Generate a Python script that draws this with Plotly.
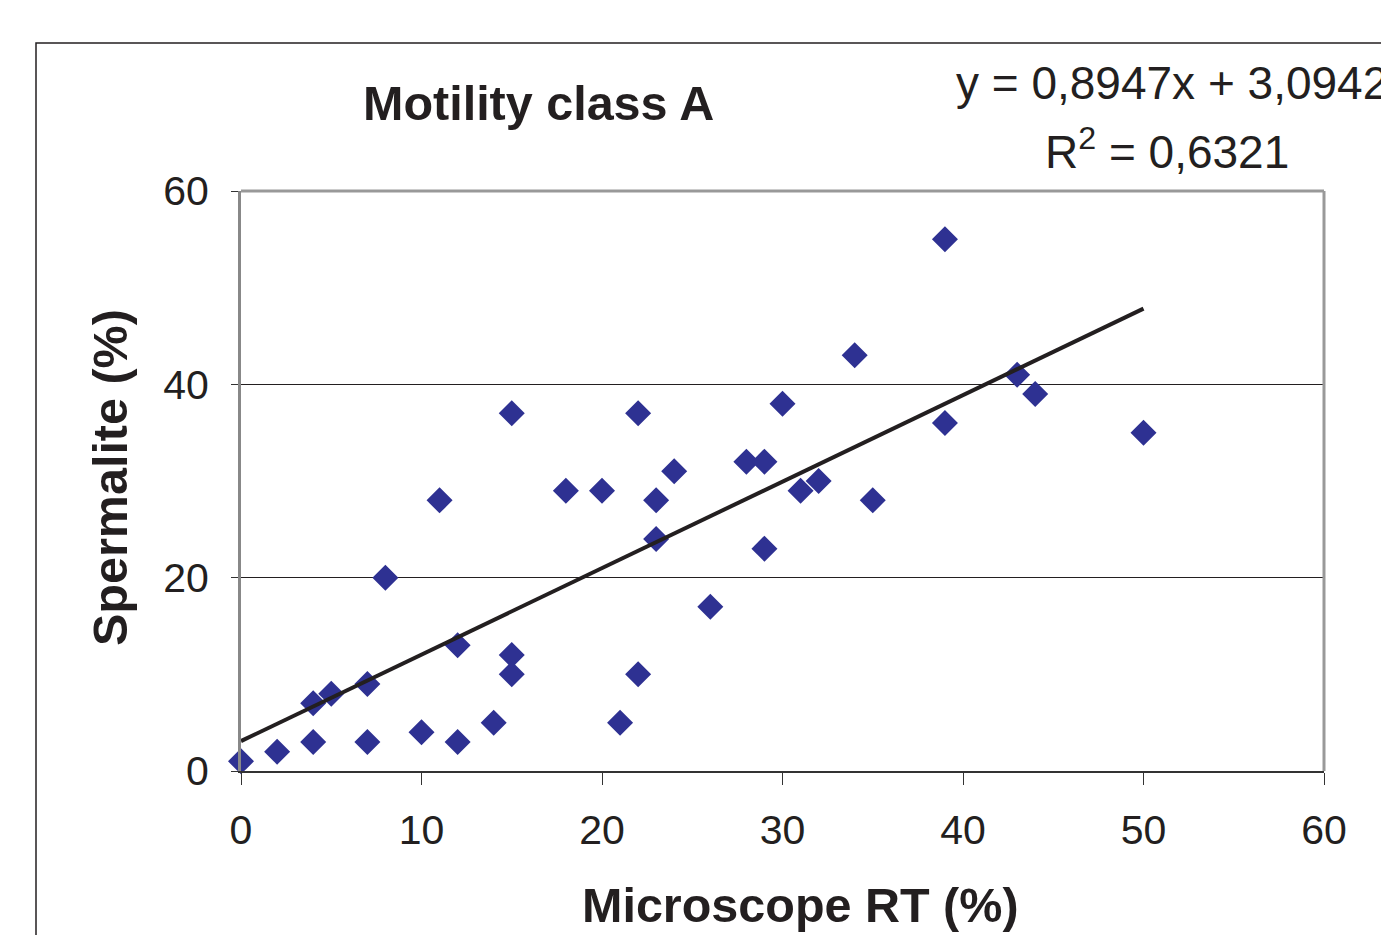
import plotly.graph_objects as go

# Data
microscope_rt = [0, 2, 4, 4, 5, 7, 7, 8, 10, 11, 12, 12, 14, 15, 15, 15, 18, 20, 21,
                 22, 22, 23, 23, 24, 26, 28, 29, 29, 30, 31, 32, 34, 35, 39, 39, 43, 44, 50]
spermalite = [1, 2, 3, 7, 8, 9, 3, 20, 4, 28, 13, 3, 5, 37, 12, 10, 29, 29, 5,
              37, 10, 28, 24, 31, 17, 32, 32, 23, 38, 29, 30, 43, 28, 55, 36, 41, 39, 35]

slope = 0.8947
intercept = 3.0942
r_squared = 0.6321
trend_x = [0, 50]
trend_y = [slope * v + intercept for v in trend_x]

x_ticks = [0, 10, 20, 30, 40, 50, 60]
y_ticks = [0, 20, 40, 60]

FONT = "Liberation Sans, Arial, sans-serif"
INK = "#231F20"

fig = go.Figure()
fig.add_trace(go.Scatter(
    x=microscope_rt, y=spermalite, mode="markers",
    marker=dict(symbol="diamond", size=20, color="#2E3192", line=dict(width=0)),
    showlegend=False, cliponaxis=False,
))
fig.add_trace(go.Scatter(
    x=trend_x, y=trend_y, mode="lines",
    line=dict(color=INK, width=4),
    showlegend=False,
))

# page body has an 8px margin; work in reference pixel coords shifted by it
OFF = 8
W, H = 1389 - OFF, 935 - OFF
L, R, T, B = 241 - OFF, 1324 - OFF, 191 - OFF, 771 - OFF
pw, ph = R - L, B - T

def px(xp):
    return (xp - OFF - L) / pw

def py(yp):
    return (B - (yp - OFF)) / ph

fig.update_layout(
    width=W, height=H,
    margin=dict(l=L, r=W - R, t=T, b=H - B, pad=0),
    paper_bgcolor="white", plot_bgcolor="white",
    font=dict(family=FONT, color=INK),
    xaxis=dict(
        range=[0, 60], tickvals=x_ticks, ticktext=[str(v) for v in x_ticks],
        showgrid=False, zeroline=False,
        showline=True, linecolor="#333333", linewidth=2,
        ticks="outside", ticklen=12, tickcolor="#333333", tickwidth=1,
        ticklabelstandoff=10,
        tickfont=dict(size=41, family=FONT, color=INK),
    ),
    yaxis=dict(
        range=[0, 60], tickvals=y_ticks, ticktext=[str(v) for v in y_ticks],
        showgrid=True, gridcolor=INK, gridwidth=1,
        zeroline=False,
        showline=True, linecolor="#888888", linewidth=3,
        ticks="outside", ticklen=7, tickcolor="#333333", tickwidth=1,
        ticklabelstandoff=14,
        tickfont=dict(size=41, family=FONT, color=INK),
    ),
    shapes=[
        dict(type="line", xref="paper", yref="paper", x0=0, x1=1, y0=1, y1=1,
             line=dict(color="#999999", width=3)),
        dict(type="line", xref="paper", yref="paper", x0=1, x1=1, y0=0, y1=1,
             line=dict(color="#999999", width=3)),
        dict(type="rect", xref="paper", yref="paper",
             x0=px(36), x1=px(1382), y0=py(43), y1=py(960),
             line=dict(color=INK, width=1.5), fillcolor="rgba(0,0,0,0)", layer="above"),
    ],
    annotations=[
        dict(text="<b>Motility class A</b>", xref="paper", yref="paper",
             x=px(538), y=py(103), showarrow=False, xanchor="center", yanchor="middle",
             font=dict(size=48.5, family=FONT, color=INK)),
        dict(text="<b>Microscope RT (%)</b>", xref="paper", yref="paper",
             x=px(800), y=py(905), showarrow=False, xanchor="center", yanchor="middle",
             font=dict(size=48.5, family=FONT, color=INK)),
        dict(text="<b>Spermalite (%)</b>", xref="paper", yref="paper", textangle=-90,
             x=px(110), y=py(478), showarrow=False, xanchor="center", yanchor="middle",
             font=dict(size=48.5, family=FONT, color=INK)),
        dict(text=f"y = {str(slope).replace('.', ',')}x + {str(intercept).replace('.', ',')}",
             xref="paper", yref="paper",
             x=px(954), y=py(83), showarrow=False, xanchor="left", yanchor="middle",
             font=dict(size=46, family=FONT, color=INK)),
        dict(text=f"R<sup>2</sup> = {str(r_squared).replace('.', ',')}",
             xref="paper", yref="paper",
             x=px(1167), y=py(149), showarrow=False, xanchor="center", yanchor="middle",
             font=dict(size=46, family=FONT, color=INK)),
    ],
)

fig.write_html("out.html")
